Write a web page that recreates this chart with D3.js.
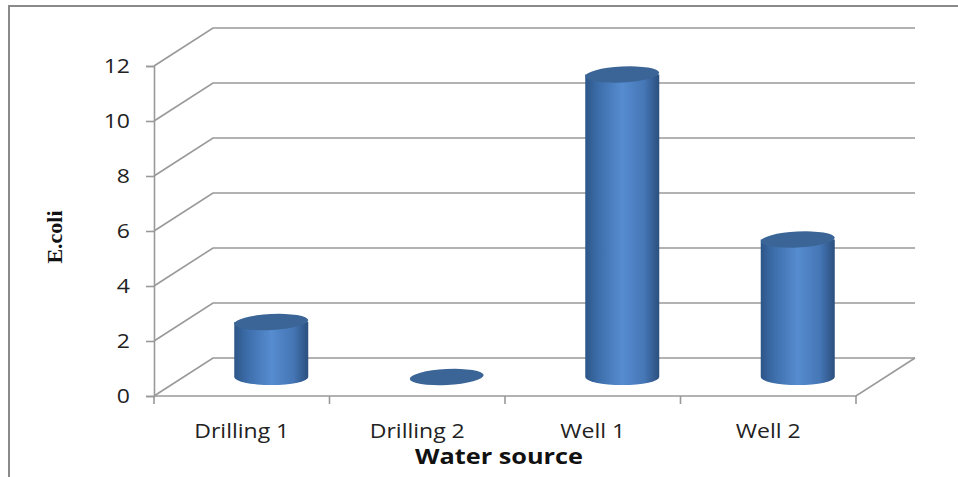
<!DOCTYPE html>
<html>
<head>
<meta charset="utf-8">
<script src="https://cdn.jsdelivr.net/npm/d3@7"></script>
<style>
  body { margin: 0; background: #fff; }
  svg { display: block; }
</style>
</head>
<body>
<div id="my_dataviz"></div>
<script>
// data
var categories = ["Drilling 1", "Drilling 2", "Well 1", "Well 2"];
var values = [2, 0, 11, 5];
var yTicks = [0, 2, 4, 6, 8, 10, 12];
var yTitle = "E.coli";
var xTitle = "Water source";

var W = 958, H = 477;
// front plane of the 3d box
var x0 = 154, x1 = 856, yBottom = 396, yTop = 66;
// depth offset of the back wall
var dx = 59, dy = -38;
// labels in the reference are a wide font, stretch ours a bit
var stretch = 1.15;

var svg = d3.select("#my_dataviz")
  .append("svg")
  .attr("width", W)
  .attr("height", H);

// outer frame (only top and left edges show)
svg.append("path")
  .attr("d", "M9,477 L9,6 L958,6")
  .attr("fill", "none")
  .attr("stroke", "#8a8a8a")
  .attr("stroke-width", 2);

var x = d3.scaleBand()
  .domain(categories)
  .range([x0, x1])
  .padding(0);

var y = d3.scaleLinear()
  .domain([0, 12])
  .range([yBottom, yTop]);

var gridColor = "#999";

function widen(sel) {
  sel.each(function() {
    var w = this.getComputedTextLength();
    d3.select(this)
      .attr("textLength", w * stretch)
      .attr("lengthAdjust", "spacingAndGlyphs");
  });
}

// gridlines: diagonal from axis to back wall, then across the back wall
svg.append("g")
  .selectAll("path")
  .data(yTicks)
  .enter()
  .append("path")
  .attr("d", function(d) {
    var yy = y(d);
    return "M" + x0 + "," + yy + " L" + (x0 + dx) + "," + (yy + dy) + " L" + (x1 + dx) + "," + (yy + dy);
  })
  .attr("fill", "none")
  .attr("stroke", gridColor)
  .attr("stroke-width", 1.6);

// floor: front edge and right side
svg.append("path")
  .attr("d", "M" + x0 + "," + y(0) + " L" + x1 + "," + y(0) + " L" + (x1 + dx) + "," + (y(0) + dy))
  .attr("fill", "none")
  .attr("stroke", gridColor)
  .attr("stroke-width", 1.6);

// y axis
var yAxis = svg.append("g")
  .attr("transform", "translate(" + x0 + ",0)")
  .call(d3.axisLeft(y).tickValues(yTicks).tickSize(8).tickPadding(16));
yAxis.select(".domain").attr("stroke", gridColor).attr("stroke-width", 1.6);
yAxis.selectAll(".tick line").attr("stroke", gridColor).attr("stroke-width", 1.6);
yAxis.selectAll(".tick text")
  .attr("fill", "#222")
  .style("font-family", "'Open Sans', sans-serif")
  .style("font-size", "20px")
  .call(widen);

// x axis labels under each band
var xAxis = svg.append("g")
  .attr("transform", "translate(0," + y(0) + ")")
  .call(d3.axisBottom(x).tickSize(0).tickPadding(28));
xAxis.select(".domain").remove();
xAxis.selectAll(".tick text")
  .attr("fill", "#222")
  .style("font-family", "'Open Sans', sans-serif")
  .style("font-size", "20px")
  .call(widen);

// x ticks at band boundaries
var bounds = categories.map(function(c) { return x(c); }).concat([x1]);
svg.append("g")
  .selectAll("line")
  .data(bounds)
  .enter()
  .append("line")
  .attr("x1", function(d) { return d; })
  .attr("x2", function(d) { return d; })
  .attr("y1", y(0))
  .attr("y2", y(0) + 8)
  .attr("stroke", gridColor)
  .attr("stroke-width", 1.6);

// cylinder gradient
var defs = svg.append("defs");
var grad = defs.append("linearGradient")
  .attr("id", "cyl")
  .attr("x1", "0%").attr("x2", "100%")
  .attr("y1", "0%").attr("y2", "0%");
grad.append("stop").attr("offset", "0%").attr("stop-color", "#2d5688");
grad.append("stop").attr("offset", "18%").attr("stop-color", "#3d6eab");
grad.append("stop").attr("offset", "50%").attr("stop-color", "#568cd0");
grad.append("stop").attr("offset", "80%").attr("stop-color", "#4576b5");
grad.append("stop").attr("offset", "100%").attr("stop-color", "#2b4f7e");

var rx = 37, ry = 8, tilt = -3;

var bars = svg.append("g")
  .selectAll("g")
  .data(categories.map(function(c, i) { return { cat: c, value: values[i] }; }))
  .enter()
  .append("g");

// body
bars.filter(function(d) { return d.value > 0; })
  .append("path")
  .attr("d", function(d) {
    var cx = x(d.cat) + x.bandwidth() / 2 + dx / 2;
    var base = y(0) + dy / 2;
    var top = y(d.value) + dy / 2;
    return "M" + (cx - rx) + "," + top +
      " L" + (cx - rx) + "," + base +
      " A" + rx + "," + ry + " 0 0 0 " + (cx + rx) + "," + base +
      " L" + (cx + rx) + "," + top + " Z";
  })
  .attr("fill", "url(#cyl)");

// top cap
bars.append("ellipse")
  .attr("cx", function(d) { return x(d.cat) + x.bandwidth() / 2 + dx / 2; })
  .attr("cy", function(d) { return y(d.value) + dy / 2; })
  .attr("rx", rx)
  .attr("ry", ry)
  .attr("transform", function(d) {
    var cx = x(d.cat) + x.bandwidth() / 2 + dx / 2;
    return "rotate(" + tilt + "," + cx + "," + (y(d.value) + dy / 2) + ")";
  })
  .attr("fill", "#3b6597");

// axis titles
svg.append("text")
  .attr("x", 499)
  .attr("y", 464)
  .attr("text-anchor", "middle")
  .style("font-family", "'Open Sans', sans-serif")
  .style("font-weight", "bold")
  .style("font-size", "22px")
  .attr("fill", "#111")
  .text(xTitle)
  .call(widen);

svg.append("text")
  .attr("transform", "translate(62,237) rotate(-90)")
  .attr("text-anchor", "middle")
  .style("font-family", "'Liberation Serif', serif")
  .style("font-weight", "bold")
  .style("font-size", "22px")
  .attr("fill", "#111")
  .text(yTitle);
</script>
</body>
</html>
